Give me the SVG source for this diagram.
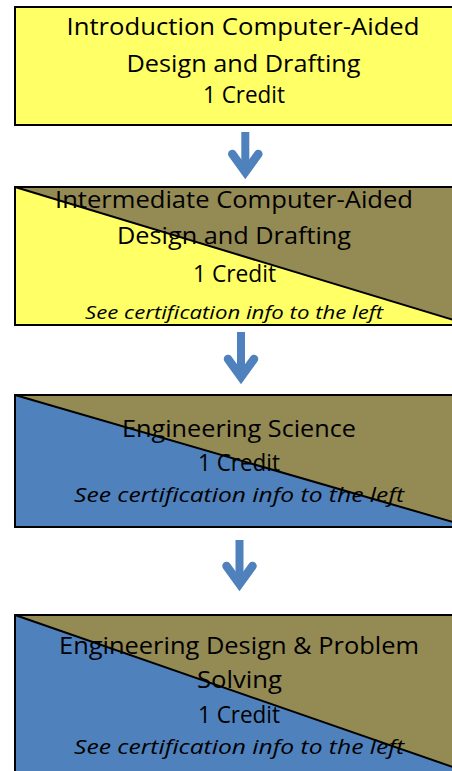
<svg xmlns="http://www.w3.org/2000/svg" width="452" height="771" viewBox="0 0 452 771">
<style>
.box{stroke:#000;stroke-width:2;}
.diag{stroke:#000;stroke-width:2;fill:none;}
.y{fill:#FFFF66;}
.o{fill:#948A54;}
.b{fill:#4F81BD;}
.t{font-family:"Open Sans","Liberation Sans",sans-serif;font-size:23px;fill:#000;text-anchor:middle;}
.i{font-family:"Open Sans","Liberation Sans",sans-serif;font-style:italic;fill:#000;text-anchor:middle;}
.arr{stroke:#4F81BD;stroke-width:8.5;fill:none;stroke-linecap:round;stroke-linejoin:miter;}
.shaft{stroke:#4F81BD;stroke-width:8;fill:none;}
</style>
<rect width="452" height="771" fill="#fff"/>
<g id="node1">
<rect class="box y" x="15" y="7" width="455" height="118"/>
<text class="t" x="243" y="35" textLength="353" lengthAdjust="spacingAndGlyphs">Introduction Computer-Aided</text>
<text class="t" x="243.5" y="72" textLength="234" lengthAdjust="spacingAndGlyphs">Design and Drafting</text>
<text class="t" x="244" y="103" textLength="82" lengthAdjust="spacingAndGlyphs">1 Credit</text>
</g>
<g id="node2">
<rect class="y" x="15" y="187" width="455" height="138"/>
<polygon class="o" points="15,187 470,187 470,325"/>
<line class="diag" x1="15" y1="187" x2="470" y2="325"/>
<rect class="box" fill="none" x="15" y="187" width="455" height="138"/>
<text class="t" x="234" y="207.5" textLength="358" lengthAdjust="spacingAndGlyphs">Intermediate Computer-Aided</text>
<text class="t" x="234" y="244" textLength="234" lengthAdjust="spacingAndGlyphs">Design and Drafting</text>
<text class="t" x="234.5" y="281.5" textLength="83" lengthAdjust="spacingAndGlyphs">1 Credit</text>
<text class="i" x="234" y="319" font-size="18" textLength="298" lengthAdjust="spacingAndGlyphs">See certification info to the left</text>
</g>
<g id="node3">
<rect class="b" x="15" y="395" width="455" height="132"/>
<polygon class="o" points="15,395 470,395 470,527"/>
<line class="diag" x1="15" y1="395" x2="470" y2="527"/>
<rect class="box" fill="none" x="15" y="395" width="455" height="132"/>
<text class="t" x="239" y="437" textLength="234" lengthAdjust="spacingAndGlyphs">Engineering Science</text>
<text class="t" x="239" y="470.5" textLength="82" lengthAdjust="spacingAndGlyphs">1 Credit</text>
<text class="i" x="239" y="501.5" font-size="20" textLength="330" lengthAdjust="spacingAndGlyphs">See certification info to the left</text>
</g>
<g id="node4">
<rect class="b" x="15" y="615" width="455" height="158"/>
<polygon class="o" points="15,615 470,615 470,773"/>
<line class="diag" x1="15" y1="615" x2="470" y2="773"/>
<rect class="box" fill="none" x="15" y="615" width="455" height="158"/>
<text class="t" x="239" y="654" textLength="360" lengthAdjust="spacingAndGlyphs">Engineering Design &amp; Problem</text>
<text class="t" x="239.5" y="688" textLength="85" lengthAdjust="spacingAndGlyphs">Solving</text>
<text class="t" x="239" y="722.5" textLength="82" lengthAdjust="spacingAndGlyphs">1 Credit</text>
<text class="i" x="239" y="754" font-size="20" textLength="330" lengthAdjust="spacingAndGlyphs">See certification info to the left</text>
</g>
<g id="connectors">
<path class="shaft" d="M245.3,132 V172"/>
<path class="arr" d="M232.3,154 L245.3,172 L258.3,154"/>
<path class="shaft" d="M241,332 V377"/>
<path class="arr" d="M228,359 L241,377 L254,359"/>
<path class="shaft" d="M239.5,540 V584"/>
<path class="arr" d="M226.5,566 L239.5,584 L252.5,566"/>
</g>
</svg>
